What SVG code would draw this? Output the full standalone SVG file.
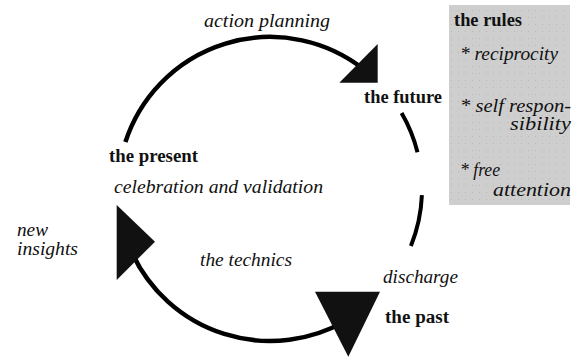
<svg xmlns="http://www.w3.org/2000/svg" width="575" height="358" viewBox="0 0 575 358">
<style>
.arc{fill:none;stroke:#000;stroke-width:4.5;}
.dash{fill:none;stroke:#000;stroke-width:4;}
.head{fill:#111;}
.it{font-family:"Liberation Serif","Times New Roman",serif;font-style:italic;font-size:18px;fill:#111;}
.bd{font-family:"Liberation Serif","Times New Roman",serif;font-weight:bold;font-size:18px;fill:#111;}
</style>
<defs>
<pattern id="dots" width="7" height="7" patternUnits="userSpaceOnUse">
<rect x="3" y="3" width="1" height="1" fill="#b8b8b8"/>
</pattern>
</defs>
<rect width="575" height="358" fill="#fff"/>
<g id="connectors">
<path class="arc" d="M 125.4 142 A 152 152 0 0 1 363.6 69.2"/>
<path class="dash" d="M 401.6 113 A 152 152 0 0 1 417.5 152.2"/>
<path class="dash" d="M 421.9 195.1 A 152 152 0 0 1 410.9 245.9"/>
<path class="arc" d="M 346 320.6 A 152 152 0 0 1 132.2 253.2"/>
<polygon class="head" points="339.3,82.7 377.7,44 377.7,82.7"/>
<polygon class="head" points="116.7,205 155,241.7 116.7,280"/>
<polygon class="head" points="315,291.7 380,291.7 348.3,356.7"/>
</g>
<g id="present">
<text class="bd" x="109" y="162" textLength="89" lengthAdjust="spacingAndGlyphs">the present</text>
<text class="it" x="114" y="193" textLength="209" lengthAdjust="spacingAndGlyphs">celebration and validation</text>
</g>
<g id="future">
<text class="bd" x="364" y="103" textLength="78" lengthAdjust="spacingAndGlyphs">the future</text>
</g>
<g id="past">
<text class="bd" x="385" y="323" textLength="64" lengthAdjust="spacingAndGlyphs">the past</text>
</g>
<g id="labels">
<text class="it" x="204" y="27" textLength="126" lengthAdjust="spacingAndGlyphs">action planning</text>
<text class="it" x="17" y="236" textLength="31" lengthAdjust="spacingAndGlyphs">new</text>
<text class="it" x="17" y="255" textLength="61" lengthAdjust="spacingAndGlyphs">insights</text>
<text class="it" x="200" y="266" textLength="92" lengthAdjust="spacingAndGlyphs">the technics</text>
<text class="it" x="383" y="283" textLength="75" lengthAdjust="spacingAndGlyphs">discharge</text>
</g>
<g id="rules">
<rect x="449" y="5" width="121" height="200" fill="#cecece"/>
<rect x="449" y="5" width="121" height="200" fill="url(#dots)"/>
<text class="bd" x="454" y="26" textLength="68" lengthAdjust="spacingAndGlyphs">the rules</text>
<text class="it" x="460" y="60" textLength="98" lengthAdjust="spacingAndGlyphs">* reciprocity</text>
<text class="it" x="460" y="112" textLength="111" lengthAdjust="spacingAndGlyphs">* self  respon-</text>
<text class="it" x="510" y="130" textLength="61" lengthAdjust="spacingAndGlyphs">sibility</text>
<text class="it" x="460" y="176" textLength="40" lengthAdjust="spacingAndGlyphs">* free</text>
<text class="it" x="493" y="196" textLength="78" lengthAdjust="spacingAndGlyphs">attention</text>
</g>
</svg>
